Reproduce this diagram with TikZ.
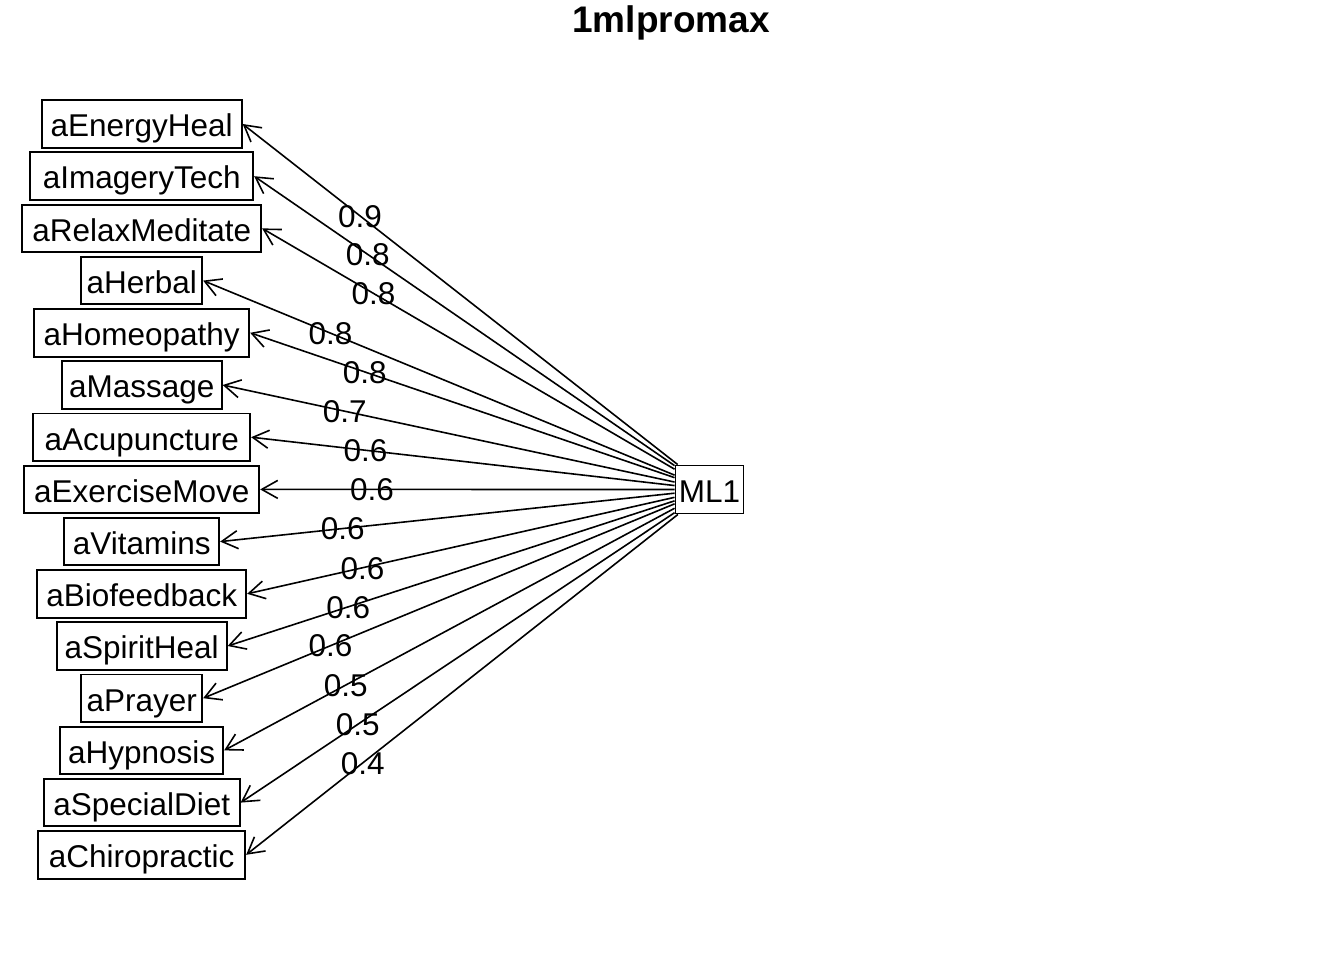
\documentclass[tikz,border=0pt]{standalone}
\usepackage{fontspec}
\setmainfont{Liberation Sans}
\usetikzlibrary{positioning}
\usetikzlibrary{arrows.meta}

\begin{document}
\begin{tikzpicture}[
    x=1pt, y=-1pt,
    varbox/.style={draw, rectangle, line width=1.9pt, inner sep=0pt, minimum width=#1, minimum height=47.5pt, text height=26pt, text depth=0.4pt, font=\fontsize{31.5}{36}\selectfont},
    facbox/.style={draw, rectangle, line width=1.9pt, inner sep=0pt, minimum width=68pt, minimum height=48pt, text height=26pt, text depth=0.4pt, font=\fontsize{31.5}{36}\selectfont},
    load/.style={->, line width=1.6pt},
    lab/.style={pos=0.73, inner sep=0pt, text height=22.5pt, text depth=0pt, font=\fontsize{31.5}{36}\selectfont},
    >={Straight Barb[length=16pt,width=18pt]}
]
\fill[white] (0,0) rectangle (1344,960);
\useasboundingbox (0,0) rectangle (1344,960);

% title
\node[anchor=base, inner sep=0pt, font=\bfseries\fontsize{37}{42}\selectfont] (title) at (671,33) {1mlpromax};

% observed variables
\node[varbox=200pt] (v1) at (141.7,124) {aEnergyHeal};
\node[varbox=223pt, below=2.8pt of v1] (v2) {aImageryTech};
\node[varbox=239pt, below=2.8pt of v2] (v3) {aRelaxMeditate};
\node[varbox=121pt, below=2.8pt of v3] (v4) {aHerbal};
\node[varbox=215pt, below=2.8pt of v4] (v5) {aHomeopathy};
\node[varbox=160pt, below=2.8pt of v5] (v6) {aMassage};
\node[varbox=217pt, below=2.8pt of v6] (v7) {aAcupuncture};
\node[varbox=235pt, below=2.8pt of v7] (v8) {aExerciseMove};
\node[varbox=155pt, below=2.8pt of v8] (v9) {aVitamins};
\node[varbox=209pt, below=2.8pt of v9] (v10) {aBiofeedback};
\node[varbox=170pt, below=2.8pt of v10] (v11) {aSpiritHeal};
\node[varbox=121pt, below=2.8pt of v11] (v12) {aPrayer};
\node[varbox=163pt, below=2.8pt of v12] (v13) {aHypnosis};
\node[varbox=196pt, below=2.8pt of v13] (v14) {aSpecialDiet};
\node[varbox=207pt, below=2.8pt of v14] (v15) {aChiropractic};

% factor
\node[facbox] (ML1) at (709.5,489.5) {ML1};

% loadings
\draw[load] (ML1) -- node[lab] {0.9} (v1.east);
\draw[load] (ML1) -- node[lab] {0.8} (v2.east);
\draw[load] (ML1) -- node[lab] {0.8} (v3.east);
\draw[load] (ML1) -- node[lab] {0.8} (v4.east);
\draw[load] (ML1) -- node[lab] {0.8} (v5.east);
\draw[load] (ML1) -- node[lab] {0.7} (v6.east);
\draw[load] (ML1) -- node[lab] {0.6} (v7.east);
\draw[load] (ML1) -- node[lab] {0.6} (v8.east);
\draw[load] (ML1) -- node[lab] {0.6} (v9.east);
\draw[load] (ML1) -- node[lab] {0.6} (v10.east);
\draw[load] (ML1) -- node[lab] {0.6} (v11.east);
\draw[load] (ML1) -- node[lab] {0.6} (v12.east);
\draw[load] (ML1) -- node[lab] {0.5} (v13.east);
\draw[load] (ML1) -- node[lab] {0.5} (v14.east);
\draw[load] (ML1) -- node[lab] {0.4} (v15.east);

\end{tikzpicture}
\end{document}
